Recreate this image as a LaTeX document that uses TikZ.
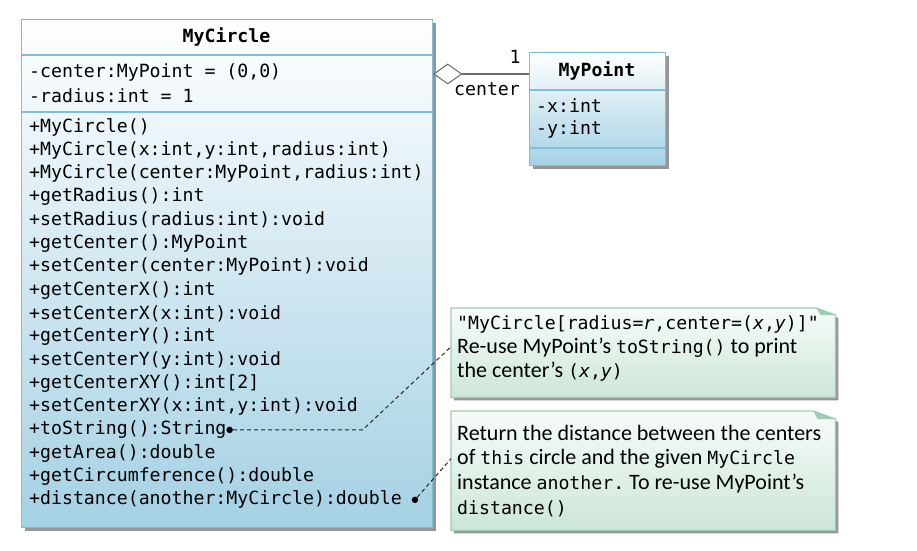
\documentclass[tikz,border=0pt]{standalone}
\usepackage{fontspec}
\setmainfont{Carlito}
\newfontfamily\codefont{DejaVu Sans Mono}
\usetikzlibrary{positioning, shapes.geometric, shadows}

\definecolor{clsline}{RGB}{126,190,218}
\definecolor{clsfill}{RGB}{164,209,228}
\definecolor{noteline}{RGB}{158,203,180}
\definecolor{notetop}{RGB}{247,252,249}
\definecolor{notefill}{RGB}{204,230,216}
\definecolor{shadowgray}{RGB}{150,150,150}
\definecolor{assocgray}{RGB}{105,105,105}

\tikzset{
	clsbox/.style={draw=clsline, line width=1.2pt, top color=white, bottom color=clsfill,
		inner sep=0pt, anchor=north west,
		drop shadow={shadow xshift=3pt, shadow yshift=-3pt, fill=shadowgray, opacity=1}},
	clsdiv/.style={draw=clsline, line width=1.2pt},
	code/.style={font=\codefont\fontsize{18.2}{22}\selectfont, anchor=west, inner sep=0pt},
	ttl/.style={font=\codefont\bfseries\fontsize{18.2}{22}\selectfont, inner sep=0pt},
	notebox/.style={draw=none, inner sep=0pt, anchor=north west},
	noteshape/.style={draw=noteline, line width=1.2pt, top color=notetop, bottom color=notefill,
		drop shadow={shadow xshift=3pt, shadow yshift=-3pt, fill=shadowgray, opacity=1}},
	notetxt/.style={font=\fontsize{22}{25}\selectfont, anchor=west, inner sep=0pt},
	aggr/.style={diamond, draw=assocgray, fill=white, line width=1pt, inner sep=0pt,
		minimum width=28pt, minimum height=20pt, aspect=1.4},
	assoc/.style={draw=assocgray, line width=1.5pt},
	dot/.style={circle, fill=black, inner sep=0pt, minimum size=6.5pt},
	notelink/.style={draw=black!85, line width=1pt, dash pattern=on 4pt off 3pt}
}
\newcommand{\cd}[1]{{\codefont\fontsize{18.2}{22}\selectfont #1}}

\begin{document}
\begin{tikzpicture}[x=1pt,y=-1pt]
	\useasboundingbox (0,0) rectangle (917,550);

	% class MyCircle
	\node[clsbox, minimum width=411pt, minimum height=508pt] (circ) at (21,19) {};
	\draw[clsdiv] (circ.west |- 0,55) -- (circ.east |- 0,55);
	\draw[clsdiv] (circ.west |- 0,112) -- (circ.east |- 0,112);
	\node[ttl] (circT) at (226.5,37) {MyCircle};
	\node[code] (ca1) at (29,72) {-center:MyPoint = (0,0)};
	\node[code] (ca2) at (29,96) {-radius:int = 1};
	\foreach \m [count=\i] in {{+MyCircle()}, {+MyCircle(x:int,y:int,radius:int)},
		{+MyCircle(center:MyPoint,radius:int)}, {+getRadius():int},
		{+setRadius(radius:int):void}, {+getCenter():MyPoint},
		{+setCenter(center:MyPoint):void}, {+getCenterX():int},
		{+setCenterX(x:int):void}, {+getCenterY():int},
		{+setCenterY(y:int):void}, {+getCenterXY():int[2]},
		{+setCenterXY(x:int,y:int):void}, {+toString():String},
		{+getArea():double}, {+getCircumference():double},
		{+distance(another:MyCircle):double}}
		\node[code] (m\i) at (29,{127+23.3*(\i-1)}) {\m};

	% class MyPoint
	\node[clsbox, minimum width=136pt, minimum height=113pt] (pt) at (529,52) {};
	\draw[clsdiv] (pt.west |- 0,90) -- (pt.east |- 0,90);
	\draw[clsdiv] (pt.west |- 0,148) -- (pt.east |- 0,148);
	\node[ttl] (ptT) at (597,71) {MyPoint};
	\node[code] (pa1) at (536,106) {-x:int};
	\node[code] (pa2) at (536,129) {-y:int};

	% aggregation
	\node[aggr, anchor=west] (dia) at (circ.east |- 0,74) {};
	\draw[assoc] (dia.east) -- (dia.east -| pt.west);
	\node[code, anchor=center] (mult) at (515,57) {1};
	\node[code, anchor=center] (role) at (487,89) {center};

	% notes
	\node[notebox, minimum width=384pt, minimum height=89pt] (note1) at (451,308) {};
	\draw[noteshape] (note1.north west) -- ([xshift=-19pt]note1.north east)
		-- ([yshift=-7pt]note1.north east) -- (note1.south east) -- (note1.south west) -- cycle;
	\fill[noteline] ([xshift=-19pt]note1.north east) -- ([yshift=-7pt]note1.north east)
		-- ([xshift=-15pt,yshift=-7pt]note1.north east) -- cycle;
	\node[notetxt] (n1a) at (457,324) {\cd{"MyCircle[radius=\textit{r},center=(\textit{x},\textit{y})]"}};
	\node[notetxt] (n1b) at (457,348) {Re-use MyPoint’s \cd{toString()} to print};
	\node[notetxt] (n1c) at (457,372) {the center’s \cd{(\textit{x},\textit{y})}};

	\node[notebox, minimum width=384pt, minimum height=119pt] (note2) at (451,411) {};
	\draw[noteshape] (note2.north west) -- ([xshift=-22pt]note2.north east)
		-- ([yshift=-8pt]note2.north east) -- (note2.south east) -- (note2.south west) -- cycle;
	\fill[noteline] ([xshift=-22pt]note2.north east) -- ([yshift=-8pt]note2.north east)
		-- ([xshift=-18pt,yshift=-8pt]note2.north east) -- cycle;
	\node[notetxt] (n2a) at (457,433) {Return the distance between the centers};
	\node[notetxt] (n2b) at (457,459) {of \cd{this} circle and the given \cd{MyCircle}};
	\node[notetxt] (n2c) at (457,484) {instance \cd{another.}\ To re-use MyPoint’s};
	\node[notetxt] (n2d) at (457,509) {\cd{distance()}};

	% note links
	\node[dot] (d1) at ([xshift=3pt]m14.east) {};
	\node[dot] (d2) at ([xshift=13pt]m17.east) {};
	\coordinate (b1) at ([xshift=133pt]d1);
	\draw[notelink] (d1) -- (b1) -- ([yshift=6pt]note1.west);
	\draw[notelink] (d2) -- ([yshift=12pt]note2.west);
\end{tikzpicture}
\end{document}
